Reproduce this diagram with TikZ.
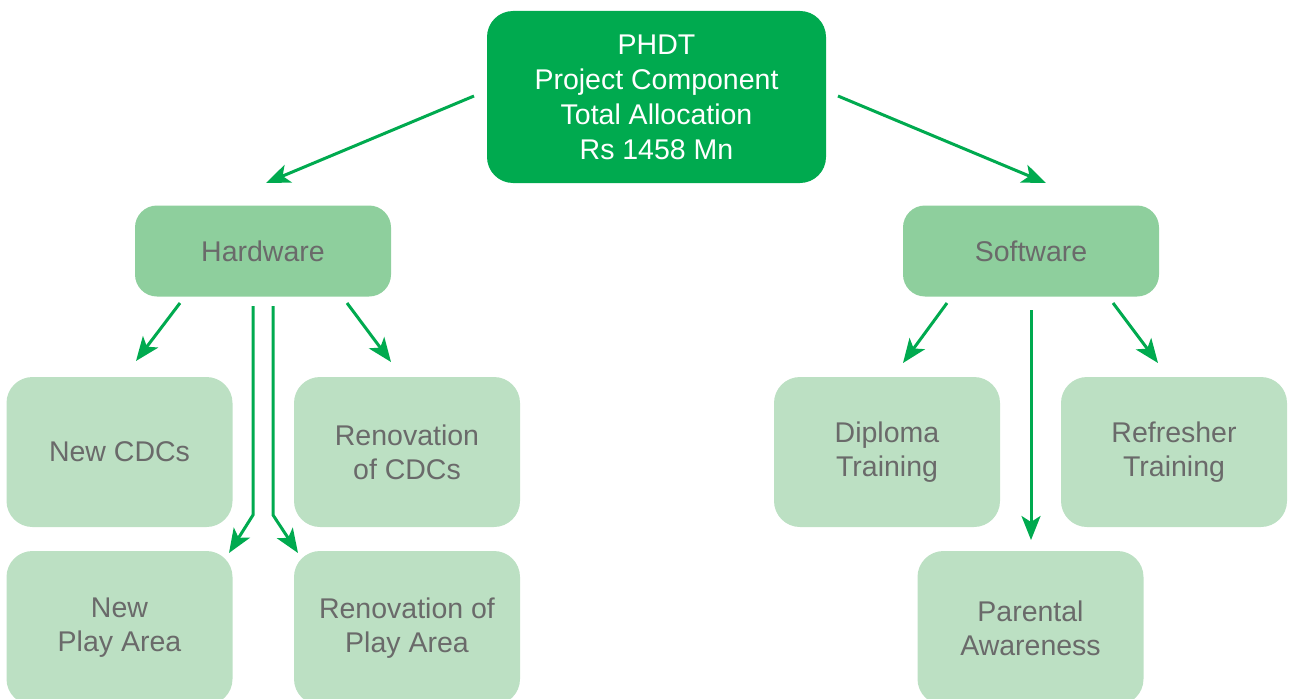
\documentclass[tikz,border=0pt]{standalone}
\usepackage{fontspec}
\setmainfont{Liberation Sans}
\usetikzlibrary{arrows.meta}
\definecolor{topgreen}{HTML}{00AA4F}
\definecolor{midgreen}{HTML}{8ECF9D}
\definecolor{lightgreen}{HTML}{BCE0C3}
\definecolor{txtgray}{HTML}{6A6A6A}
\tikzset{
  arr/.style={draw=topgreen,line width=3pt,arrows={-Stealth[length=24pt,width=19pt,inset=6pt]}}
}
\begin{document}
\begin{tikzpicture}[x=1pt,y=-1pt,
  topbox/.style={fill=topgreen,rounded corners=26pt,minimum width=339pt,minimum height=172pt,
    text=white,align=center,font=\fontsize{28.5}{35}\selectfont,inner sep=0pt},
  midbox/.style={fill=midgreen,rounded corners=22pt,minimum width=256pt,minimum height=91pt,
    text=txtgray,align=center,font=\fontsize{28.5}{34}\selectfont,inner sep=0pt},
  leafbox/.style={fill=lightgreen,rounded corners=26pt,minimum width=226pt,minimum height=150pt,
    text=txtgray,align=center,font=\fontsize{28.5}{34}\selectfont,inner sep=0pt}]
\useasboundingbox (0,0) rectangle (1289,698);
\node[topbox] (top) at (656.5,97) {PHDT\\Project Component\\Total Allocation\\Rs 1458 Mn};
\node[midbox] (hw) at (263,251) {Hardware};
\node[midbox] (sw) at (1031,251) {Software};
\node[leafbox] (ncdc) at (119.5,452) {New CDCs};
\node[leafbox] (rcdc) at (407,452) {Renovation\\of CDCs};
\node[leafbox] (dip) at (887,452) {Diploma\\Training};
\node[leafbox] (ref) at (1174,452) {Refresher\\Training};
\node[leafbox,minimum height=154pt] (npa) at (119.5,628) {New\\Play Area};
\node[leafbox,minimum height=154pt] (rpa) at (407,628) {Renovation of\\Play Area};
\node[leafbox,minimum height=154pt] (par) at (1030.5,628) {Parental\\Awareness};
% arrow end points
\coordinate (t1) at (474,96);   \coordinate (h1) at (266,183);
\coordinate (t2) at (838,96);   \coordinate (s1) at (1046,183);
\coordinate (h2) at (180,303);  \coordinate (n1) at (136,361);
\coordinate (h3) at (347,303);  \coordinate (r1) at (391,362);
\coordinate (h4) at (253,306);  \coordinate (k4) at (253,515); \coordinate (p4) at (229,553);
\coordinate (h5) at (273,306);  \coordinate (k5) at (273,515); \coordinate (p5) at (298,553);
\coordinate (s2) at (947,303);  \coordinate (d1) at (903,363);
\coordinate (s3) at (1031,310); \coordinate (a1) at (1031,540);
\coordinate (s4) at (1113,303); \coordinate (f1) at (1158,363);
\draw[arr] (t1) -- (h1);
\draw[arr] (t2) -- (s1);
\draw[arr] (h2) -- (n1);
\draw[arr] (h3) -- (r1);
\draw[arr] (h4) -- (k4) -- (p4);
\draw[arr] (h5) -- (k5) -- (p5);
\draw[arr] (s2) -- (d1);
\draw[arr] (s3) -- (a1);
\draw[arr] (s4) -- (f1);
\end{tikzpicture}
\end{document}
